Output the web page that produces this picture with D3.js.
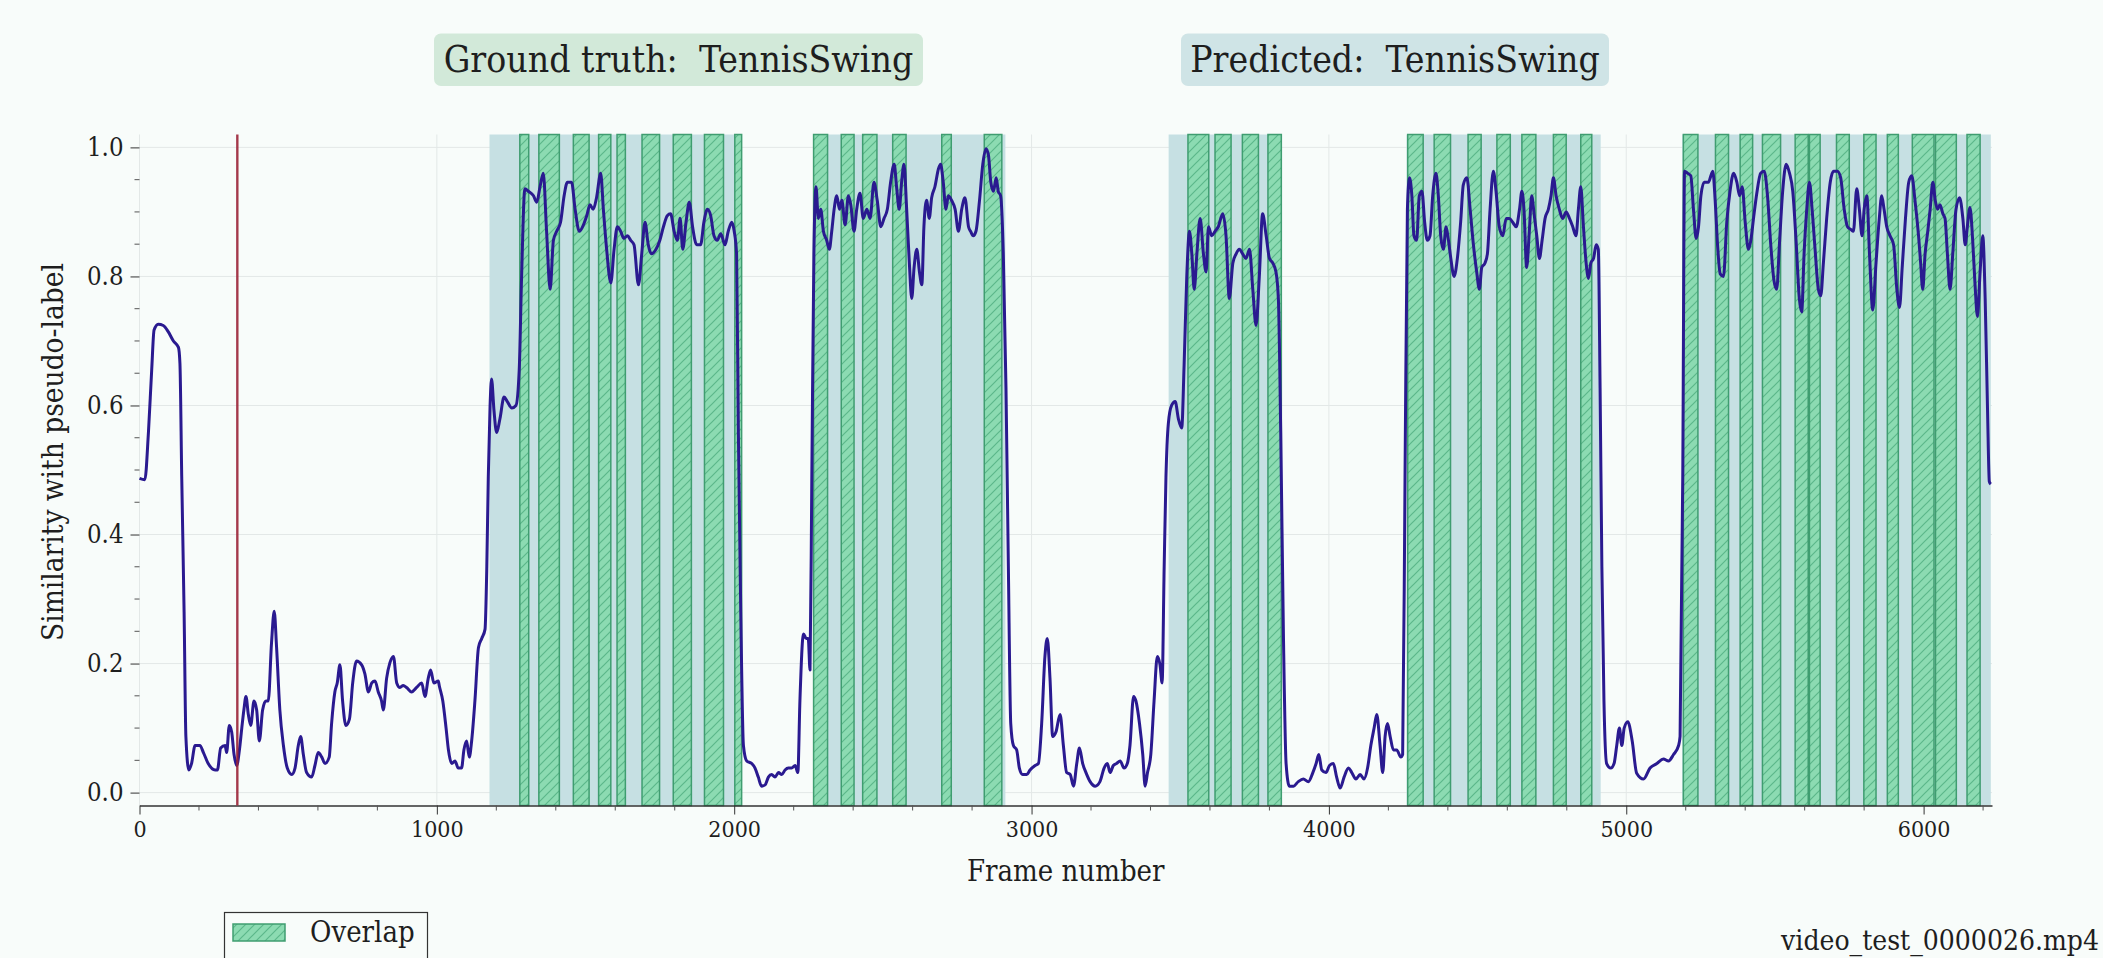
<!DOCTYPE html>
<html>
<head>
<meta charset="utf-8">
<script src="https://cdn.jsdelivr.net/npm/d3@7"></script>
<style>
  html, body { margin: 0; padding: 0; background: #f8fcfa; }
  svg { display: block; }
  text { font-family: "DejaVu Serif", serif; font-stretch: condensed; fill: #1e1e1e; white-space: pre; }
</style>
</head>
<body>
<svg id="chart" width="2103" height="958"></svg>
<script>
// ---------------- data ----------------
const frameNumbers = [
  0,18,30,41,49,63,80,97,114,131,136,142,150,156,166,175,187,203,215,231,254,262,273,288,293,302,310,318,327,336,344,351,358,366,374,385,394,403,414,425,433,444,453,461,472,484,497,512,523,534,542,551,562,579,590,601,613,624,638,646,657,665,674,683,694,706,717,730,747,758,770,781,792,803,814,820,831,842,854,865,876,887,898,915,932,949,960,971,979,990,1005,
  1008,1020,1031,1039,1050,1061,1072,1083,1091,1100,1109,1117,1128,1140,1151,1162,1168,1173,1179,1184,1192,1201,1212,1226,1237,1252,1266,1277,1285,1296,1308,1325,1336,1347,1358,1369,1381,1392,1403,1416,1428,1439,1453,1465,1479,1493,1504,1515,1526,1537,1551,1560,1571,1585,1596,1607,1618,1629,1641,1652,1663,1678,1689,1700,1711,1722,1737,1750,1762,1775,1786,1798,1809,1818,1827,1838,1849,1860,1874,1887,1898,1910,1921,1932,1943,1955,1969,1980,1992,2000,2008,
  2014,2022,2031,2042,2059,2070,2081,2092,2104,2115,2126,2137,2149,2160,2171,2182,2193,2205,2214,2221,2233,2242,2249,2255,2261,2268,2275,2283,2291,2300,2311,2320,2328,2336,2345,2354,2362,2373,2384,2392,2403,2412,2423,2434,2446,2457,2470,2481,2493,2504,2515,2526,2538,2546,2555,2563,2571,2580,2589,2597,2605,2614,2623,2631,2638,2647,2656,2664,2675,2687,2694,2703,2712,2720,2731,2743,2754,2765,2776,2788,2795,2804,2813,2825,2836,2847,2855,2863,2872,2881,2888,2896,2905,2914,2922,2930,2939,2950,2959,2970,2984,2995,
  3012,3023,3034,3045,3053,3062,3071,3082,3096,3107,3118,3130,3141,3152,3161,3172,3183,3197,3214,3230,3244,3255,3264,3275,3286,3298,3311,3322,3331,3343,3351,3363,3374,3382,3390,3401,3412,3423,3432,3439,3446,3452,3460,3471,3483,3494,3505,3513,3522,3531,3539,3547,3556,3567,3578,3587,3595,3606,3617,3628,3643,3654,3665,3677,3688,3699,3710,3721,3733,3744,3755,3766,3777,3789,3800,3811,3822,3830,3838,3847,3856,3867,3881,3897,3914,3931,3946,3957,3966,3976,3990,4002,
  4015,4026,4038,4051,4066,4077,4091,4105,4118,4130,4141,4152,4161,4172,4181,4189,4197,4206,4217,4228,4242,4248,4256,4264,4271,4279,4286,4295,4304,4313,4322,4331,4340,4349,4360,4368,4376,4385,4394,4402,4410,4421,4432,4443,4452,4464,4475,4486,4497,4506,4514,4525,4533,4542,4553,4562,4573,4585,4596,4607,4618,4630,4641,4649,4656,4665,4674,4682,4690,4699,4708,4717,4727,4738,4747,4755,4764,4775,4786,4798,4809,4820,4831,4839,4847,4856,4865,4873,4881,4890,4899,4906,4912,4918,4925,4934,4948,4959,4968,4977,4985,4993,5005,5020,5035,5058,5080,5103,5125,5142,5159,5176,5181,5190,
  5196,5206,5217,5226,5235,5243,5251,5262,5276,5291,5299,5307,5316,5327,5338,5349,5361,5372,5381,5390,5400,5411,5419,5428,5439,5452,5464,5475,5486,5497,5506,5515,5526,5538,5549,5560,5571,5582,5590,5598,5607,5616,5625,5635,5646,5654,5663,5674,5686,5697,5710,5721,5733,5744,5755,5764,5775,5784,5793,5800,5809,5818,5829,5840,5851,5859,5867,5876,5887,5899,5910,5919,5928,5939,5950,5960,5971,5983,5990,5997,6005,6014,6022,6031,6039,6047,6055,6065,6072,6080,6089,6098,6109,6121,6132,6140,6147,6156,6165,6173,6181,6190,6199,6207,6215,6221,6226
];
const similarity = [
  0.487,0.485,0.558,0.655,0.717,0.726,0.724,0.714,0.70,0.69,0.665,0.49,0.28,0.087,0.035,0.045,0.073,0.073,0.062,0.045,0.035,0.035,0.069,0.073,0.062,0.104,0.094,0.059,0.042,0.066,0.10,0.128,0.149,0.121,0.104,0.142,0.128,0.08,0.128,0.142,0.142,0.232,0.281,0.225,0.128,0.073,0.038,0.028,0.038,0.073,0.087,0.059,0.031,0.024,0.042,0.062,0.055,0.045,0.055,0.107,0.156,0.17,0.198,0.142,0.104,0.114,0.17,0.204,0.198,0.184,0.156,0.17,0.173,0.156,0.142,0.128,0.177,0.201,0.211,0.17,0.163,0.166,0.163,0.156,0.163,0.17,0.149,0.177,0.19,0.17,0.173,
  0.166,0.142,0.10,0.066,0.045,0.049,0.038,0.038,0.066,0.08,0.055,0.08,0.142,0.225,0.239,0.253,0.35,0.489,0.6,0.641,0.593,0.558,0.579,0.613,0.606,0.596,0.6,0.655,0.80,0.936,0.932,0.925,0.915,0.939,0.96,0.87,0.78,0.856,0.87,0.884,0.925,0.946,0.946,0.904,0.87,0.88,0.894,0.911,0.904,0.922,0.96,0.904,0.842,0.79,0.842,0.877,0.87,0.859,0.863,0.856,0.849,0.787,0.835,0.884,0.849,0.835,0.842,0.856,0.877,0.894,0.897,0.87,0.856,0.89,0.842,0.884,0.915,0.877,0.849,0.849,0.884,0.904,0.894,0.863,0.856,0.866,0.849,0.87,0.884,0.87,0.835,
  0.558,0.281,0.073,0.049,0.045,0.038,0.024,0.01,0.012,0.024,0.028,0.024,0.031,0.028,0.035,0.038,0.038,0.042,0.031,0.142,0.246,0.239,0.239,0.19,0.489,0.835,0.939,0.89,0.904,0.87,0.856,0.842,0.87,0.904,0.925,0.904,0.918,0.88,0.925,0.911,0.87,0.904,0.929,0.89,0.904,0.89,0.946,0.918,0.877,0.89,0.904,0.946,0.974,0.939,0.904,0.946,0.974,0.904,0.821,0.766,0.814,0.842,0.807,0.787,0.877,0.918,0.89,0.922,0.939,0.967,0.974,0.946,0.904,0.925,0.918,0.904,0.87,0.904,0.922,0.877,0.87,0.863,0.87,0.918,0.974,0.998,0.988,0.946,0.932,0.953,0.932,0.925,0.835,0.627,0.35,0.107,0.073,0.066,0.038,0.028,0.028,0.035,
  0.042,0.045,0.107,0.211,0.239,0.177,0.087,0.094,0.121,0.073,0.031,0.028,0.01,0.045,0.069,0.045,0.031,0.017,0.01,0.017,0.038,0.045,0.031,0.042,0.045,0.049,0.038,0.045,0.073,0.149,0.142,0.107,0.059,0.01,0.031,0.059,0.142,0.211,0.198,0.17,0.35,0.489,0.572,0.6,0.606,0.579,0.565,0.662,0.80,0.87,0.835,0.78,0.835,0.89,0.835,0.807,0.877,0.863,0.87,0.877,0.897,0.863,0.766,0.821,0.835,0.842,0.835,0.828,0.842,0.78,0.724,0.80,0.897,0.863,0.828,0.821,0.807,0.766,0.558,0.246,0.045,0.01,0.01,0.017,0.021,0.017,0.031,0.045,0.059,0.035,0.031,0.042,
  0.045,0.024,0.007,0.024,0.038,0.031,0.021,0.028,0.021,0.038,0.073,0.10,0.121,0.073,0.031,0.087,0.107,0.087,0.066,0.066,0.055,0.059,0.489,0.904,0.953,0.925,0.863,0.856,0.925,0.932,0.884,0.856,0.863,0.925,0.96,0.925,0.863,0.842,0.877,0.856,0.828,0.80,0.828,0.884,0.942,0.953,0.904,0.849,0.807,0.78,0.814,0.821,0.835,0.904,0.963,0.932,0.877,0.863,0.89,0.89,0.884,0.877,0.904,0.932,0.904,0.814,0.87,0.925,0.897,0.863,0.828,0.856,0.89,0.904,0.925,0.953,0.925,0.904,0.89,0.9,0.89,0.877,0.863,0.904,0.939,0.877,0.821,0.797,0.821,0.828,0.849,0.842,0.627,0.35,0.142,0.045,0.038,0.045,0.073,0.10,0.073,0.10,0.11,0.08,0.03,0.021,0.038,0.045,0.052,0.049,0.059,0.073,0.087,0.489,
  0.963,0.96,0.956,0.904,0.859,0.877,0.925,0.946,0.946,0.963,0.918,0.849,0.804,0.80,0.884,0.932,0.96,0.946,0.925,0.939,0.884,0.842,0.856,0.89,0.929,0.96,0.963,0.925,0.849,0.793,0.78,0.849,0.932,0.974,0.96,0.932,0.856,0.766,0.745,0.835,0.904,0.946,0.904,0.842,0.78,0.77,0.821,0.89,0.946,0.963,0.963,0.953,0.904,0.877,0.873,0.87,0.936,0.904,0.863,0.904,0.925,0.835,0.748,0.821,0.89,0.925,0.904,0.877,0.863,0.849,0.78,0.752,0.814,0.89,0.946,0.956,0.918,0.863,0.821,0.78,0.835,0.87,0.904,0.946,0.918,0.904,0.911,0.897,0.89,0.835,0.78,0.835,0.904,0.922,0.89,0.849,0.877,0.907,0.856,0.787,0.738,0.807,0.863,0.766,0.593,0.482,0.478
];
const predictedSpans = [[1177,2026],[2266,2912],[3461,3841],[4261,4914],[5188,6226]];
const overlapSpans = [
  [1279,1309],[1343,1412],[1459,1512],[1544,1585],[1606,1634],[1690,1749],[1795,1856],[1900,1964],[2002,2025],
  [2267,2314],[2360,2403],[2432,2480],[2533,2578],[2698,2730],[2841,2900],
  [3526,3596],[3617,3671],[3709,3763],[3795,3840],
  [4265,4317],[4354,4409],[4468,4512],[4565,4610],[4649,4696],[4755,4798],[4847,4884],
  [5192,5241],[5300,5344],[5383,5425],[5458,5519],[5568,5612],[5616,5652],[5707,5750],[5799,5840],[5878,5915],[5962,6035],[6040,6110],[6146,6190]
];
const markerFrames = [329];
const xTickValues = [0,1000,2000,3000,4000,5000,6000];
const xMinorTicks = d3.range(0, 6201, 200);
const yTickValues = [0.0,0.2,0.4,0.6,0.8,1.0];
const yMinorTicks = d3.range(0, 1.0001, 0.05);
const titleGroundTruth = "Ground truth:  TennisSwing";
const titlePredicted = "Predicted:  TennisSwing";
const legendLabels = ["Overlap"];
const fileName = "video_test_0000026.mp4";

// ---------------- chart ----------------
const svg = d3.select("#chart");
const W = 2103, H = 958;
svg.append("rect").attr("width", W).attr("height", H).attr("fill", "#f8fcfa");

const x = d3.scaleLinear().domain([0, 6230]).range([139.5, 1992]);
const y = d3.scaleLinear().domain([-0.02, 1.02]).range([805.5, 134.5]);
const plotTop = y(1.02), plotBottom = y(-0.02);

const defs = svg.append("defs");
const pat = defs.append("pattern").attr("id", "hatch")
  .attr("patternUnits", "userSpaceOnUse").attr("width", 9).attr("height", 9);
pat.append("rect").attr("width", 9).attr("height", 9).attr("fill", "#8cdbb2");
pat.append("path").attr("d", "M-2,2 L2,-2 M0,9 L9,0 M7,11 L11,7")
  .attr("stroke", "#5bb78a").attr("stroke-width", 1.2);

// grid
const grid = svg.append("g");
grid.selectAll("line.gy").data(yTickValues).join("line")
  .attr("x1", x(0)).attr("x2", x(6230)).attr("y1", d => y(d)).attr("y2", d => y(d))
  .attr("stroke", "#e3e8e7").attr("stroke-width", 1);
grid.selectAll("line.gx").data(xTickValues).join("line")
  .attr("x1", d => x(d)).attr("x2", d => x(d)).attr("y1", plotTop).attr("y2", plotBottom)
  .attr("stroke", "#e3e8e7").attr("stroke-width", 1);

// predicted spans
svg.append("g").selectAll("rect").data(predictedSpans).join("rect")
  .attr("x", d => x(d[0])).attr("width", d => x(d[1]) - x(d[0]))
  .attr("y", plotTop).attr("height", plotBottom - plotTop)
  .attr("fill", "#c6e0e3");

// overlap spans
svg.append("g").selectAll("rect").data(overlapSpans).join("rect")
  .attr("x", d => x(d[0])).attr("width", d => x(d[1]) - x(d[0]))
  .attr("y", plotTop).attr("height", plotBottom - plotTop)
  .attr("fill", "url(#hatch)").attr("stroke", "#3f9d70").attr("stroke-width", 1.5);

// axes
const xAxis = svg.append("g").attr("transform", `translate(0,${plotBottom})`)
  .call(d3.axisBottom(x).tickValues(xTickValues).tickSize(9).tickSizeOuter(0).tickPadding(6).tickFormat(d3.format("d")));
xAxis.select(".domain").attr("stroke", "#333").attr("stroke-width", 1.3);
xAxis.selectAll(".tick line").attr("stroke", "#333");
xAxis.selectAll("text").attr("font-size", 23);
svg.append("g").selectAll("line").data(xMinorTicks.filter(v => v % 1000 !== 0)).join("line")
  .attr("x1", d => x(d)).attr("x2", d => x(d)).attr("y1", plotBottom).attr("y2", plotBottom + 5)
  .attr("stroke", "#555");

const yAxis = svg.append("g").attr("transform", `translate(${x(0)},0)`)
  .call(d3.axisLeft(y).tickValues(yTickValues).tickSize(9).tickSizeOuter(0).tickPadding(7).tickFormat(d3.format(".1f")));
yAxis.select(".domain").remove();
yAxis.selectAll(".tick line").attr("stroke", "#333");
yAxis.selectAll("text").attr("font-size", 25.5);
svg.append("g").selectAll("line").data(yMinorTicks.filter(v => Math.abs(v*5 - Math.round(v*5)) > 1e-6)).join("line")
  .attr("x1", x(0) - 5).attr("x2", x(0)).attr("y1", d => y(d)).attr("y2", d => y(d))
  .attr("stroke", "#555");
svg.selectAll(".tick text").attr("fill", "#1e1e1e");
svg.selectAll("g").attr("font-family", null);

// line
const pts = frameNumbers.map((f, i) => [f, similarity[i]]);
svg.append("path").datum(pts)
  .attr("fill", "none").attr("stroke", "#2a1a90").attr("stroke-width", 3)
  .attr("stroke-linejoin", "round")
  .attr("d", d3.line().x(d => x(d[0])).y(d => y(d[1])).curve(d3.curveMonotoneX));

// marker
svg.append("g").selectAll("line").data(markerFrames).join("line")
  .attr("x1", d => x(d)).attr("x2", d => x(d)).attr("y1", plotTop).attr("y2", plotBottom)
  .attr("stroke", "#9c2438").attr("stroke-width", 2.4).attr("opacity", 0.9);

// axis labels
svg.append("text").attr("x", (x(0) + x(6230)) / 2).attr("y", 881)
  .attr("text-anchor", "middle").attr("font-size", 29).text("Frame number");
svg.append("text").attr("transform", `translate(63,452) rotate(-90)`)
  .attr("text-anchor", "middle").attr("font-size", 29.5).text("Similarity with pseudo-label");

// title boxes
function titleBox(x0, x1, fill, label) {
  svg.append("rect").attr("x", x0).attr("y", 33.5).attr("width", x1 - x0).attr("height", 52.5)
    .attr("rx", 7).attr("fill", fill);
  svg.append("text").attr("x", (x0 + x1) / 2).attr("y", 72).attr("text-anchor", "middle")
    .attr("font-size", 37).text(label);
}
titleBox(434, 923, "#d2e9d9", titleGroundTruth);
titleBox(1181, 1609, "#cfe4e6", titlePredicted);

// legend
const lg = svg.append("g");
lg.append("rect").attr("x", 224.5).attr("y", 912.5).attr("width", 203).attr("height", 60)
  .attr("fill", "#f8fcfa").attr("stroke", "#333").attr("stroke-width", 1.2);
lg.append("rect").attr("x", 233).attr("y", 924).attr("width", 52).attr("height", 17)
  .attr("fill", "url(#hatch)").attr("stroke", "#3f9d70").attr("stroke-width", 1.5);
lg.append("text").attr("x", 310).attr("y", 942).attr("font-size", 29).text(legendLabels[0]);

// file name (kept fully inside the picture)
svg.append("text").attr("x", 2099).attr("y", 950).attr("text-anchor", "end")
  .attr("font-size", 28).text(fileName);
</script>
</body>
</html>
